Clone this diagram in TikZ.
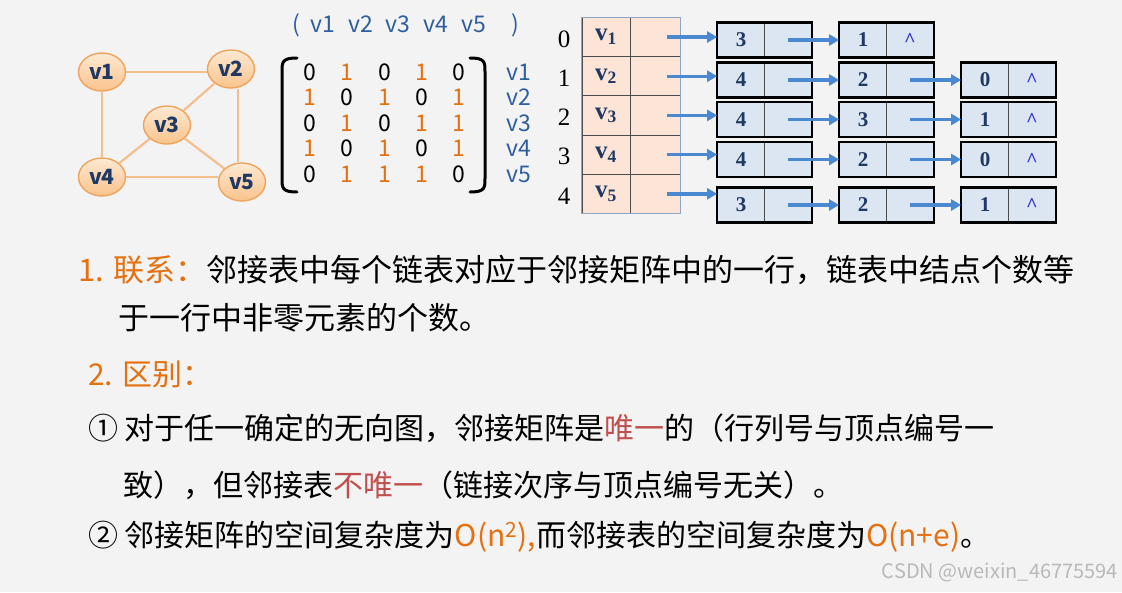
\documentclass[tikz,border=0pt]{standalone}
\usepackage{fontspec}
\setmainfont{Noto Sans CJK SC}
\newfontfamily\tnr{Liberation Serif}
\usetikzlibrary{shapes.geometric,arrows.meta}
\definecolor{bggray}{HTML}{F3F3F3}
\definecolor{vtop}{HTML}{FDE9D2}
\definecolor{vbot}{HTML}{F9C38C}
\definecolor{vborder}{HTML}{EFA45E}
\definecolor{edgeor}{HTML}{F4BF8C}
\definecolor{navy}{HTML}{1F3864}
\definecolor{mblue}{HTML}{2F5E9E}
\definecolor{orng}{HTML}{E4700F}
\definecolor{redt}{HTML}{C0504D}
\definecolor{peach}{HTML}{FCE4D6}
\definecolor{listblue}{HTML}{DCE6F2}
\definecolor{arrowblue}{HTML}{4A89D0}
\definecolor{nilblue}{HTML}{3030C8}
\newcommand\setfs[1]{\fontsize{#1}{#1}\selectfont}
\newcommand\nilmark{\textcolor{nilblue}{\textasciicircum}}
\begin{document}
\begin{tikzpicture}[x=1pt,y=-1pt,
  vert/.style={ellipse, draw=vborder, line width=1.4pt, top color=vtop, bottom color=vbot,
    minimum width=47, minimum height=38, inner sep=0pt, text=navy, font=\setfs{21}\bfseries},
  gedge/.style={draw=edgeor, line width=2.2pt},
  ent0/.style={font=\setfs{23}, text=black},
  ent1/.style={font=\setfs{23}, text=orng},
  mlabel/.style={font=\setfs{23}, text=mblue},
  idx/.style={font=\tnr\setfs{25}},
  vcell/.style={draw=gray!60!black, line width=0.8pt, fill=peach, minimum height=39.2, inner sep=0pt,
    font=\tnr\setfs{25}\bfseries, text=navy},
  ldata/.style={draw=gray!60!black, line width=0.8pt, fill=listblue, minimum width=47, minimum height=34,
    inner sep=0pt, font=\tnr\setfs{21}\bfseries, text=navy},
  lptr/.style={ldata, font=\tnr\setfs{20}\bfseries},
  lframe/.style={draw=black, line width=2.6pt},
  link/.style={draw=arrowblue, line width=3.4pt, -{Triangle[length=10pt,width=11pt]}},
  txt/.style={anchor=west, inner sep=0pt, font=\setfs{30}}]
  \fill[bggray] (0,0) rectangle (1122,592);
  \useasboundingbox (0,0) rectangle (1122,592);
  % Graph
  \begin{scope}
    \node[vert] (g1) at (102,72) {v1};
    \node[vert] (g2) at (231,69) {v2};
    \node[vert] (g3) at (167,125) {v3};
    \node[vert] (g4) at (102,177) {v4};
    \node[vert] (g5) at (242,182) {v5};
    \draw[gedge] (g1.east) -- (g1.east -| g2.west);
    \draw[gedge] (g1.south) -- (g1.south |- g4.north);
    \draw[gedge] ([xshift=7pt]g2.south) -- ([xshift=7pt]g2.south |- g5.north);
    \draw[gedge] (g4.east) -- (g4.east -| g5.west);
    \foreach \a/\b in {g2/g3, g3/g4, g3/g5}
      \draw[gedge] (\a) -- (\b);
  \end{scope}
  % Adjacency matrix
  \begin{scope}
    \node[mlabel, anchor=west] (mhead) at (289,25)
      {(\hspace{10pt}v1\hspace{13pt}v2\hspace{13pt}v3\hspace{13pt}v4\hspace{13pt}v5\hspace{25pt})};
    \foreach \row [count=\i] in {{0,1,0,1,0},{1,0,1,0,1},{0,1,0,1,1},{1,0,1,0,1},{0,1,1,1,0}} {
      \foreach \e [count=\j] in \row
        \node[ent\e] (m\i\j) at ({310+37.2*(\j-1)}, {72+25.5*(\i-1)}) {\e};
      \node[mlabel] (r\i) at (519, {72+25.5*(\i-1)}) {v\i};
    }
    \draw[line width=3pt, line cap=round] (297,58) .. controls (282,58) and (282,62) .. (282,72)
      -- (282,178) .. controls (282,188) and (282,192) .. (297,192);
    \draw[line width=3pt, line cap=round] (470,58) .. controls (485,58) and (485,62) .. (485,72)
      -- (485,178) .. controls (485,188) and (485,192) .. (470,192);
  \end{scope}
  % Vertex table
  \foreach \r [count=\k] in {0,...,4} {
    \pgfmathsetmacro\yy{37+39.2*\r}
    \node[idx] (i\r) at (564,\yy+2) {\r};
    \node[vcell, minimum width=48] (vd\r) at (606,\yy) {v\textsubscript{\k}};
    \node[vcell, minimum width=50] (vp\r) at (655,\yy) {};
  }
  \draw[draw=mblue!55, line width=1pt] (vd0.north west) rectangle (vp4.south east);
  % Edge lists
  \foreach \r/\yy/\n/\lst in {0/40/2/{3,1}, 1/80/3/{4,2,0}, 2/119.5/3/{4,3,1}, 3/159.5/3/{4,2,0}, 4/205/3/{3,2,1}} {
    \foreach \d [count=\c] in \lst {
      \pgfmathsetmacro\xx{741+122*(\c-1)}
      \node[ldata] (a\r\c) at (\xx,\yy) {\d};
      \node[lptr] (p\r\c) at (\xx+47,\yy) {\ifnum\c=\n\nilmark\fi};
      \draw[lframe] (a\r\c.north west) rectangle (p\r\c.south east);
      \pgfmathtruncatemacro\pc{\c-1}
      \ifnum\c>1 \draw[link] (p\r\pc.center) -- (a\r\c.west); \fi
    }
    \draw[link] ([xshift=12pt]vp\r.center) -- (vp\r.center -| a\r1.west);
  }
  % Text
  \node[txt, font=\setfs{31}] (l1) at (78,270) {\textcolor{orng}{1. 联系：}邻接表中每个链表对应于邻接矩阵中的一行，链表中结点个数等};
  \node[txt, font=\setfs{31}] (l2) at (118,318) {于一行中非零元素的个数。};
  \node[txt] (l3) at (88,374) {\textcolor{orng}{2. 区别：}};
  \node[txt] (l4) at (88,428) {① 对于任一确定的无向图，邻接矩阵是\textcolor{redt}{唯一}的（行列号与顶点编号一};
  \node[txt] (l5) at (123,485) {致），但邻接表\textcolor{redt}{不唯一}（链接次序与顶点编号无关）。};
  \node[txt] (l6) at (88,537) {② 邻接矩阵的空间复杂度为\textcolor{orng}{O(n\textsuperscript{2}),}而邻接表的空间复杂度为\textcolor{orng}{O(n+e)}。};
  \node[anchor=east, inner sep=0pt, font=\setfs{20}, text=gray!55] (wm) at (1118,572) {CSDN @weixin\_46775594};
\end{tikzpicture}
\end{document}
